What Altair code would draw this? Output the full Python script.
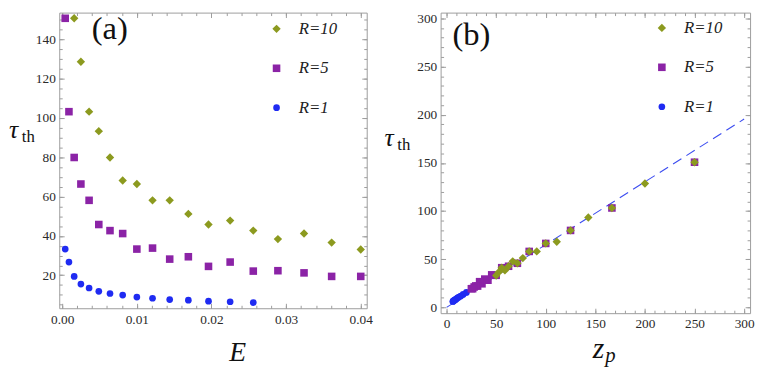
import altair as alt
import pandas as pd

SERIES = ["R=10", "R=5", "R=1"]
COLORS = ["#8c9a1f", "#8b23a6", "#1f2bf2"]
SHAPES = ["diamond", "square", "circle"]
SIZES = [72, 46, 40]

# R = 10
E_R10 = [0.0016, 0.0025, 0.0036, 0.0049, 0.0064, 0.0081, 0.0100, 0.0121, 0.0144,
         0.0169, 0.0196, 0.0225, 0.0256, 0.0289, 0.0324, 0.0361, 0.0400]
ZP_R10 = [250.0, 200.0, 166.7, 142.9, 125.0, 111.1, 100.0, 90.9, 83.3,
          76.9, 71.4, 66.7, 62.5, 58.8, 55.6, 52.6, 50.0]
TAU_R10 = [150.7, 128.6, 103.2, 93.3, 79.9, 68.2, 66.4, 58.1, 58.1,
           51.2, 45.8, 47.8, 42.7, 38.4, 41.2, 36.6, 33.1]

# R = 5
E_R5 = [0.0004, 0.0009, 0.0016, 0.0025, 0.0036, 0.0049, 0.0064, 0.0081, 0.0100, 0.0121,
        0.0144, 0.0169, 0.0196, 0.0225, 0.0256, 0.0289, 0.0324, 0.0361, 0.0400]
ZP_R5 = [250.0, 166.7, 125.0, 100.0, 83.3, 71.4, 62.5, 55.6, 50.0, 45.5,
         41.7, 38.5, 35.7, 33.3, 31.3, 29.4, 27.8, 26.3, 25.0]
TAU_R5 = [150.7, 103.2, 79.9, 66.4, 58.1, 45.8, 42.7, 41.2, 33.3, 33.8,
          28.2, 29.4, 24.5, 26.7, 22.1, 22.3, 21.2, 19.4, 19.4]

# R = 1
E_R1 = [0.0004, 0.0009, 0.0016, 0.0025, 0.0036, 0.0049, 0.0064, 0.0081,
        0.0100, 0.0121, 0.0144, 0.0169, 0.0196, 0.0225, 0.0256]
ZP_R1 = [50.0, 33.3, 25.0, 20.0, 16.7, 14.3, 12.5, 11.1,
         10.0, 9.1, 8.3, 7.7, 7.1, 6.7, 6.3]
TAU_R1 = [33.3, 26.7, 19.4, 15.5, 13.5, 11.8, 10.7, 9.9,
          8.9, 8.3, 7.6, 7.3, 6.8, 6.5, 6.1]

# dashed reference line in panel (b)
LINE_ZP = [0.0, 300.0]
LINE_TAU = [0.0, 195.5]

XMAJ_A = [0.0, 0.01, 0.02, 0.03, 0.04]
XMIN_A = [round(i * 0.002, 4) for i in range(0, 21)]
YMAJ_A = [20, 40, 60, 80, 100, 120, 140]
YMIN_A = list(range(5, 155, 5))
MAJ_B = [0, 50, 100, 150, 200, 250, 300]
MIN_B = list(range(0, 310, 10))

FONT = "Liberation Serif, Times New Roman, serif"
FRAME = "#9c9c9c"


def build_df():
    rows = []
    for name, es, zs, ts in [("R=1", E_R1, ZP_R1, TAU_R1),
                             ("R=5", E_R5, ZP_R5, TAU_R5),
                             ("R=10", E_R10, ZP_R10, TAU_R10)]:
        for e, z, t in zip(es, zs, ts):
            rows.append({"R": name, "E": e, "zp": z, "tau": t})
    return pd.DataFrame(rows)


df = build_df()
line_df = pd.DataFrame({"zp": LINE_ZP, "tau": LINE_TAU})


def axis(values, orient, labels, tick, fmt=None):
    kw = dict(values=values, orient=orient, labels=labels, tickSize=tick, offset=-tick,
              domain=False, grid=False, ticks=True, tickColor=FRAME, tickWidth=1, title=None)
    if labels:
        kw.update(labelFont=FONT, labelFontSize=13.5, labelColor="#2a2a2a", labelPadding=4,
                  labelOverlap=False, labelFlush=False)
        if fmt:
            kw["format"] = fmt
    return alt.Axis(**kw)


def txt(s, x, y, size, style="normal", align="left", baseline="alphabetic"):
    return alt.Chart(pd.DataFrame({"t": [s]})).mark_text(
        font=FONT, fontSize=size, fontStyle=style, align=align, baseline=baseline,
        color="#111111").encode(text="t:N", x=alt.value(x), y=alt.value(y))


def panel(xfield, xdom, ydom, w, h, xmaj, xmin, ymaj, ymin, xfmt, lx, ly, texts, line=None):
    xs = alt.Scale(domain=xdom, nice=False, zero=False)
    ys = alt.Scale(domain=ydom, nice=False, zero=False)
    leg = alt.Legend(orient="none", legendX=lx, legendY=ly, title=None, labelFont=FONT,
                     labelFontStyle="italic", labelFontSize=17, labelColor="#222222",
                     symbolSize=30, symbolStrokeWidth=0, rowPadding=22, labelOffset=14,
                     padding=0)
    base = alt.Chart(df)
    pts = base.mark_point(filled=True, opacity=1, strokeWidth=0).encode(
        x=alt.X(f"{xfield}:Q", scale=xs, axis=axis(xmaj, "bottom", True, 5, xfmt)),
        y=alt.Y("tau:Q", scale=ys, axis=axis(ymaj, "left", True, 5)),
        color=alt.Color("R:N", scale=alt.Scale(domain=SERIES, range=COLORS), legend=leg),
        shape=alt.Shape("R:N", scale=alt.Scale(domain=SERIES, range=SHAPES), legend=leg),
        size=alt.Size("R:N", scale=alt.Scale(domain=SERIES, range=SIZES), legend=None),
    )

    def ghost(xa, ya):
        return base.mark_point(opacity=0).encode(
            x=alt.X(f"{xfield}:Q", scale=xs, axis=xa),
            y=alt.Y("tau:Q", scale=ys, axis=ya))

    g1 = ghost(axis(xmin, "bottom", False, 3), axis(ymin, "left", False, 3))
    g2 = ghost(axis(xmaj, "top", False, 5), axis(ymaj, "right", False, 5))
    g3 = ghost(axis(xmin, "top", False, 3), axis(ymin, "right", False, 3))
    layers = []
    if line is not None:
        layers.append(alt.Chart(line).mark_line(color="#3b4cf0", strokeDash=[10, 6],
                                                strokeWidth=1.1).encode(
            x=alt.X("zp:Q", scale=xs, axis=None), y=alt.Y("tau:Q", scale=ys, axis=None)))
    layers += [pts, g1, g2, g3] + texts
    return alt.layer(*layers).resolve_axis(x="independent", y="independent").properties(
        width=w, height=h)


pa = panel("E", [-0.0004, 0.0408], [3.2, 153.6], 312, 300, XMAJ_A, XMIN_A, YMAJ_A, YMIN_A,
           ".2f", 212, 8,
           [txt("(a)", 33, 26.5, 33),
            txt("τ", -51, 127, 26, style="italic"),
            txt("th", -38, 131, 17),
            txt("E", 181, 354, 28, style="italic", align="center")])

pb = panel("zp", [-6, 306], [-6, 306], 314, 305, MAJ_B, MIN_B, MAJ_B, MIN_B,
           None, 216, 7,
           [txt("(b)", 12, 33, 33),
            txt("τ", -57, 135, 26, style="italic"),
            txt("th", -44, 139, 17),
            txt("z", 166, 350, 30, style="italic", align="right"),
            txt("p", 167, 355, 21, style="italic")],
           line=line_df)

chart = alt.hconcat(pa, pb, spacing=10).resolve_scale(
    color="independent", shape="independent", size="independent").resolve_legend(
    color="independent", shape="independent").configure_view(
    stroke=FRAME, strokeWidth=1).configure_axis(
    labelFont=FONT).configure_legend(labelFont=FONT).configure_text(font=FONT).properties(
    padding={"left": 0, "top": 0, "right": 0, "bottom": 0})

chart.save("out.html", embed_options={"renderer": "svg", "actions": False})
